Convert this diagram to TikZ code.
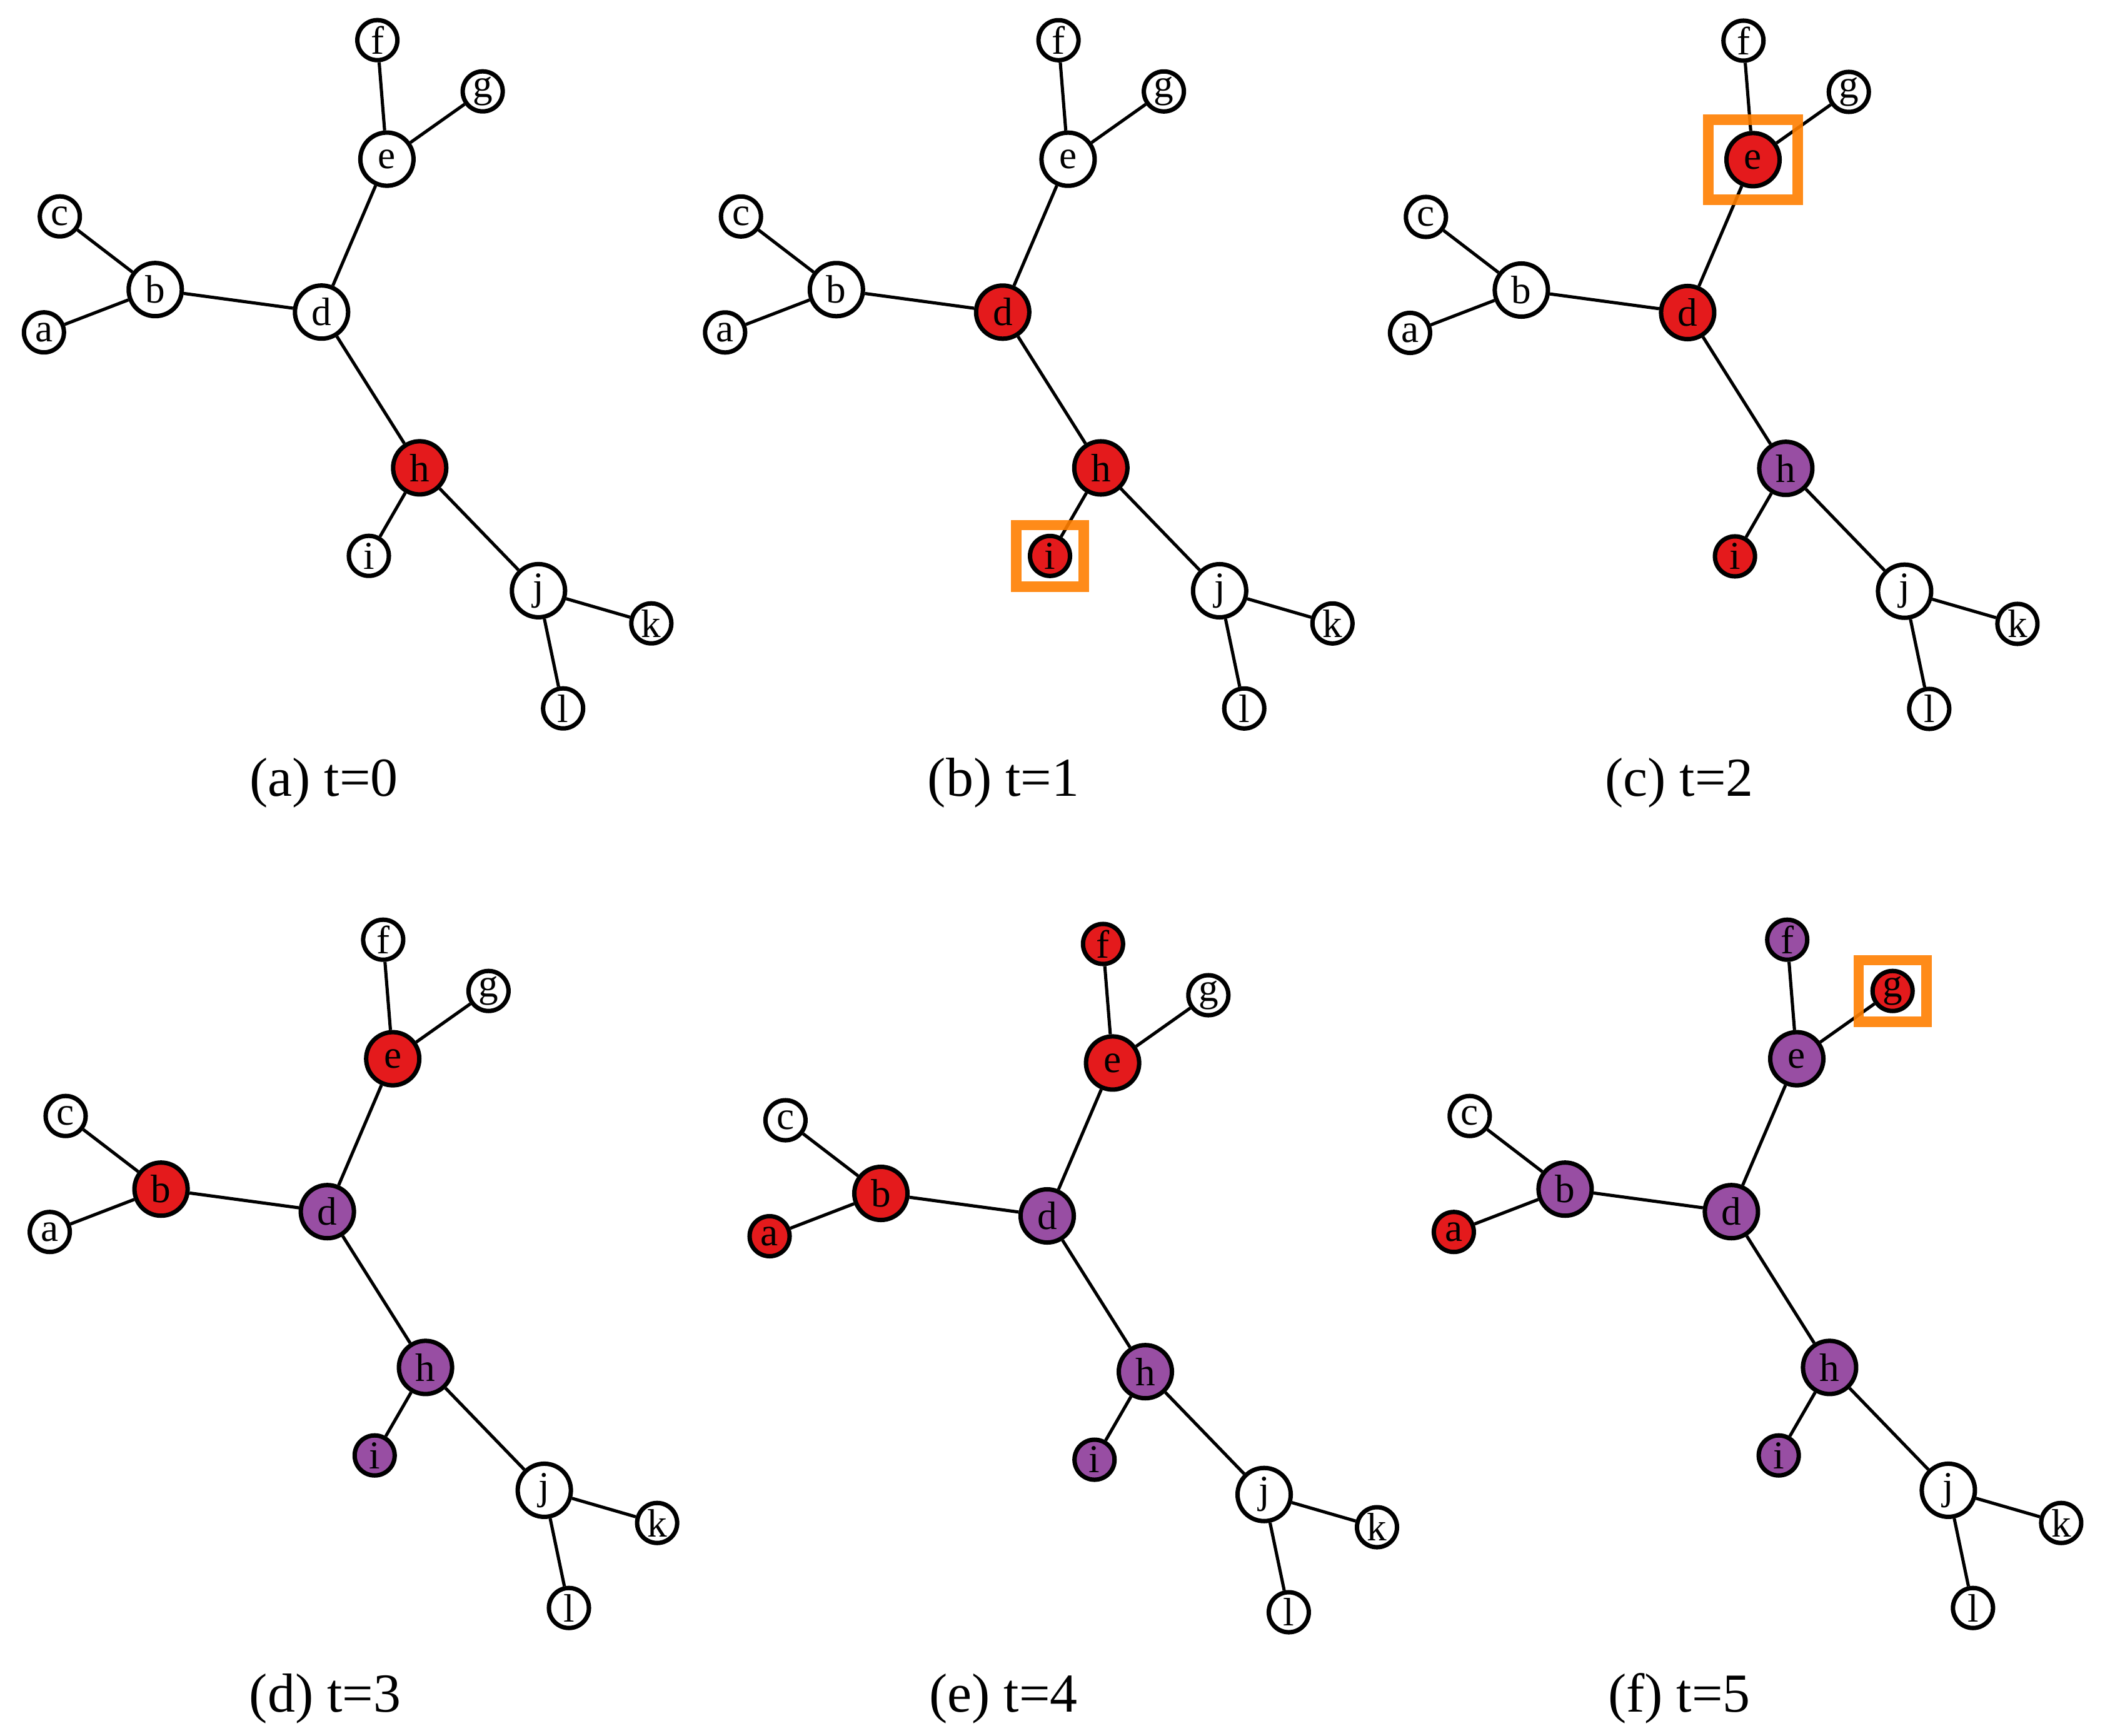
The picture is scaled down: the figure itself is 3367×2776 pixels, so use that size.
\documentclass[tikz,border=0pt]{standalone}
\usepackage{fontspec}
\setmainfont{Liberation Serif}
\definecolor{nred}{HTML}{E41A1C}
\definecolor{npurple}{HTML}{984EA3}
\definecolor{norange}{HTML}{FF7F00}
\tikzset{
  gnode/.style={circle, draw=black, line width=2.0pt, inner sep=0pt,
    font=\fontsize{18}{18}\selectfont, text=black},
  bignode/.style={gnode, minimum size=0.85cm},
  smallnode/.style={gnode, minimum size=0.64cm},
  edge/.style={line width=1.45pt, black},
  hilite/.style={rectangle, draw=norange, draw opacity=0.9, line width=0.167cm, inner sep=0pt, fill=none},
  bigbox/.style={hilite, minimum width=1.423cm, minimum height=1.283cm},
  smallbox/.style={hilite, minimum width=1.083cm, minimum height=0.983cm},
  caption/.style={anchor=base, font=\fontsize{25}{25}\selectfont, inner sep=0pt}
}
\newcommand\setcols[9]{%
  \def\ca{#1}\def\cb{#2}\def\cc{#3}\def\cd{#4}\def\ce{#5}%
  \def\cf{#6}\def\cg{#7}\def\ch{#8}\def\ci{#9}}
\newcommand\treepanel[3]{%
  \begin{scope}[shift={(#2,#3)}]
    \node[bignode, fill=\cd] (#1d) at (0,0) {d};
    \node[bignode, fill=\cb] (#1b) at (-266,-36) {b};
    \node[smallnode, fill=\ca] (#1a) at (-444,32.5) {a};
    \node[smallnode, fill=\cc] (#1c) at (-418.6,-153) {c};
    \node[bignode, fill=\ce] (#1e) at (104.6,-244.6) {e};
    \node[smallnode, fill=\cf] (#1f) at (89.3,-435) {f};
    \node[smallnode, fill=\cg] (#1g) at (257.8,-353) {g};
    \node[bignode, fill=\ch] (#1h) at (157,249.2) {h};
    \node[smallnode, fill=\ci] (#1i) at (75.7,390) {i};
    \node[bignode, fill=white] (#1j) at (347,445.7) {j};
    \node[smallnode, fill=white] (#1k) at (527.5,498) {k};
    \node[smallnode, fill=white] (#1l) at (386.4,634) {l};
    \draw[edge] (#1a) -- (#1b);
    \draw[edge] (#1c) -- (#1b);
    \draw[edge] (#1b) -- (#1d);
    \draw[edge] (#1d) -- (#1e);
    \draw[edge] (#1e) -- (#1f);
    \draw[edge] (#1e) -- (#1g);
    \draw[edge] (#1d) -- (#1h);
    \draw[edge] (#1h) -- (#1i);
    \draw[edge] (#1h) -- (#1j);
    \draw[edge] (#1j) -- (#1k);
    \draw[edge] (#1j) -- (#1l);
  \end{scope}}
\begin{document}
\begin{tikzpicture}[x=0.01cm, y=-0.01cm]
  \fill[white] (0,0) rectangle (3367,2776);
  \useasboundingbox (0,0) rectangle (3367,2776);
  % (a)
  \setcols{white}{white}{white}{white}{white}{white}{white}{nred}{white}
  \treepanel{A}{514.3}{499.2}
  \node[caption] (Acap) at (518,1273) {(a) t=0};
  % (b)
  \setcols{white}{white}{white}{nred}{white}{white}{white}{nred}{nred}
  \treepanel{B}{1603.8}{499.3}
  \node[smallbox] (Bbox) at (Bi) {};
  \node[caption] (Bcap) at (1605,1273) {(b) t=1};
  % (c)
  \setcols{white}{white}{white}{nred}{nred}{white}{white}{npurple}{nred}
  \treepanel{C}{2699.4}{500}
  \node[bigbox] (Cbox) at (Ce) {};
  \node[caption] (Ccap) at (2686,1273) {(c) t=2};
  % (d)
  \setcols{white}{nred}{white}{npurple}{nred}{white}{white}{npurple}{npurple}
  \treepanel{D}{523.6}{1938.2}
  \node[caption] (Dcap) at (520,2738) {(d) t=3};
  % (e)
  \setcols{nred}{nred}{white}{npurple}{nred}{nred}{white}{npurple}{npurple}
  \treepanel{E}{1675}{1945}
  \node[caption] (Ecap) at (1605,2738) {(e) t=4};
  % (f)
  \setcols{nred}{npurple}{white}{npurple}{npurple}{npurple}{nred}{npurple}{npurple}
  \treepanel{F}{2769.4}{1938.2}
  \node[smallbox] (Fbox) at (Fg) {};
  \node[caption] (Fcap) at (2686,2738) {(f) t=5};
\end{tikzpicture}
\end{document}
